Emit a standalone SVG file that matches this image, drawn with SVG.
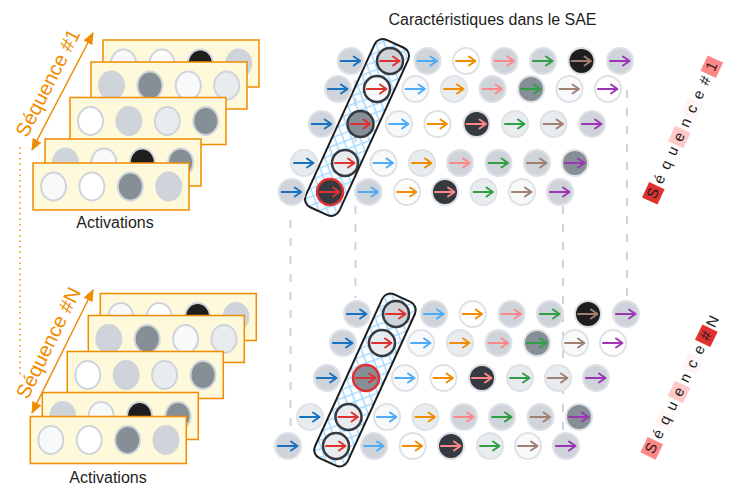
<svg xmlns="http://www.w3.org/2000/svg" xmlns:xlink="http://www.w3.org/1999/xlink" width="738" height="498" viewBox="0 0 738 498">
<style>
.t{font-family:"Liberation Sans",Arial,sans-serif;fill:#1e1e1e}
.o{font-family:"Liberation Sans",Arial,sans-serif;fill:#f08c00;font-size:20px}
.card{fill:#fff9db;stroke:#f08c00;stroke-width:1.5}
ellipse{stroke:#ced4da;stroke-width:2}
circle{stroke:#dee2e6;stroke-width:2}
.g0{fill:#ffffff}.g1{fill:#f8f9fa}.g2{fill:#e9ecef}.g3{fill:#ced4da}.g4{fill:#868e96}.g5{fill:#343a40}.g6{fill:#1e1e1e}
.hl{stroke:#343a40;stroke-width:2.5}
.hr{stroke:#e03131;stroke-width:2.5}
.k1{color:#1971c2}.k2{color:#e03131}.k3{color:#4dabf7}.k4{color:#f08c00}.k5{color:#ff8787}.k6{color:#2f9e44}.k7{color:#a18072}.k8{color:#9c36b5}
.dash{stroke:#ced4da;stroke-width:2;stroke-dasharray:8 10;fill:none}
.box{fill:url(#hatch);stroke:#1e1e1e;stroke-width:2}
</style>
<defs>
<path id="ar" d="M-10 0H9M3-4.5L9.5 0 3 4.5" fill="none" stroke="currentColor" stroke-width="2" stroke-linecap="round" stroke-linejoin="round"/>
<pattern id="hatch" width="8" height="8" patternUnits="userSpaceOnUse" patternTransform="rotate(45)"><path d="M0.75 0V8M0 0.75H8" stroke="#a5d8ff" stroke-width="1.4" fill="none"/></pattern>
<marker id="oh" viewBox="0 0 12 10" refX="11" refY="5" markerWidth="12" markerHeight="10" markerUnits="userSpaceOnUse" orient="auto-start-reverse"><path d="M0 0L12 5L0 10z" fill="#f08c00"/></marker>
</defs>
<rect width="738" height="498" fill="#ffffff"/>

<g id="connectors">
<line x1="20" y1="147" x2="20" y2="376" stroke="#f08c00" stroke-width="1.5" stroke-dasharray="1.5 4"/>
<line x1="32" y1="150" x2="93" y2="33" stroke="#f08c00" stroke-width="1.5" marker-start="url(#oh)" marker-end="url(#oh)"/>
<line x1="32" y1="413" x2="93" y2="290" stroke="#f08c00" stroke-width="1.5" marker-start="url(#oh)" marker-end="url(#oh)"/>
<line class="dash" x1="290.5" y1="220" x2="290.5" y2="432"/>
<line class="dash" x1="355.5" y1="62" x2="355.5" y2="298"/>
<line class="dash" x1="563" y1="206" x2="563" y2="432"/>
<line class="dash" x1="627" y1="90" x2="627" y2="300"/>
</g>

<!-- Top stack -->
<g id="s1-card1" transform="translate(103,40)"><rect class="card" width="156" height="47"/><ellipse cx="20.5" cy="23.5" rx="12.5" ry="14" class="g1"/><ellipse cx="58.9" cy="23.5" rx="12.5" ry="14" class="g0"/><ellipse cx="97.3" cy="23.5" rx="12.5" ry="14" class="g6"/><ellipse cx="135.7" cy="23.5" rx="12.5" ry="14" class="g3"/></g>
<g id="s1-card2" transform="translate(91,62)"><rect class="card" width="156" height="47"/><ellipse cx="20.5" cy="23.5" rx="12.5" ry="14" class="g3"/><ellipse cx="58.9" cy="23.5" rx="12.5" ry="14" class="g4"/><ellipse cx="97.3" cy="23.5" rx="12.5" ry="14" class="g1"/><ellipse cx="135.7" cy="23.5" rx="12.5" ry="14" class="g2"/></g>
<g id="s1-card3" transform="translate(70,97.5)"><rect class="card" width="156" height="47"/><ellipse cx="20.5" cy="23.5" rx="12.5" ry="14" class="g0"/><ellipse cx="58.9" cy="23.5" rx="12.5" ry="14" class="g3"/><ellipse cx="97.3" cy="23.5" rx="12.5" ry="14" class="g2"/><ellipse cx="135.7" cy="23.5" rx="12.5" ry="14" class="g4"/></g>
<g id="s1-card4" transform="translate(45,139)"><rect class="card" width="156" height="47"/><ellipse cx="20.5" cy="23.5" rx="12.5" ry="14" class="g3"/><ellipse cx="58.9" cy="23.5" rx="12.5" ry="14" class="g1"/><ellipse cx="97.3" cy="23.5" rx="12.5" ry="14" class="g6"/><ellipse cx="135.7" cy="23.5" rx="12.5" ry="14" class="g4"/></g>
<g id="s1-card5" transform="translate(33,163)"><rect class="card" width="156" height="47"/><ellipse cx="20.5" cy="23.5" rx="12.5" ry="14" class="g1"/><ellipse cx="58.9" cy="23.5" rx="12.5" ry="14" class="g0"/><ellipse cx="97.3" cy="23.5" rx="12.5" ry="14" class="g4"/><ellipse cx="135.7" cy="23.5" rx="12.5" ry="14" class="g3"/></g>
<text id="lbl-act1" class="t" x="115" y="228" font-size="16" text-anchor="middle">Activations</text>
<text id="lbl-seq1" class="o" transform="translate(54,86) rotate(-62.8)" text-anchor="middle">Séquence #1</text>

<!-- Bottom stack -->
<g id="s2-card1" transform="translate(100.3,293.5)"><rect class="card" width="156" height="47"/><ellipse cx="20.5" cy="23.5" rx="12.5" ry="14" class="g1"/><ellipse cx="58.9" cy="23.5" rx="12.5" ry="14" class="g0"/><ellipse cx="97.3" cy="23.5" rx="12.5" ry="14" class="g6"/><ellipse cx="135.7" cy="23.5" rx="12.5" ry="14" class="g3"/></g>
<g id="s2-card2" transform="translate(88.3,315.5)"><rect class="card" width="156" height="47"/><ellipse cx="20.5" cy="23.5" rx="12.5" ry="14" class="g3"/><ellipse cx="58.9" cy="23.5" rx="12.5" ry="14" class="g4"/><ellipse cx="97.3" cy="23.5" rx="12.5" ry="14" class="g1"/><ellipse cx="135.7" cy="23.5" rx="12.5" ry="14" class="g2"/></g>
<g id="s2-card3" transform="translate(67.3,351.5)"><rect class="card" width="156" height="47"/><ellipse cx="20.5" cy="23.5" rx="12.5" ry="14" class="g0"/><ellipse cx="58.9" cy="23.5" rx="12.5" ry="14" class="g3"/><ellipse cx="97.3" cy="23.5" rx="12.5" ry="14" class="g2"/><ellipse cx="135.7" cy="23.5" rx="12.5" ry="14" class="g4"/></g>
<g id="s2-card4" transform="translate(42.3,392.5)"><rect class="card" width="156" height="47"/><ellipse cx="20.5" cy="23.5" rx="12.5" ry="14" class="g3"/><ellipse cx="58.9" cy="23.5" rx="12.5" ry="14" class="g1"/><ellipse cx="97.3" cy="23.5" rx="12.5" ry="14" class="g6"/><ellipse cx="135.7" cy="23.5" rx="12.5" ry="14" class="g4"/></g>
<g id="s2-card5" transform="translate(30.3,416.5)"><rect class="card" width="156" height="47"/><ellipse cx="20.5" cy="23.5" rx="12.5" ry="14" class="g1"/><ellipse cx="58.9" cy="23.5" rx="12.5" ry="14" class="g0"/><ellipse cx="97.3" cy="23.5" rx="12.5" ry="14" class="g4"/><ellipse cx="135.7" cy="23.5" rx="12.5" ry="14" class="g3"/></g>
<text id="lbl-act2" class="t" x="108" y="483" font-size="16" text-anchor="middle">Activations</text>
<text id="lbl-seqN" class="o" transform="translate(54.5,346) rotate(-63.8)" text-anchor="middle">Séquence #N</text>

<text id="title" class="t" x="492.5" y="25" font-size="16" text-anchor="middle">Caractéristiques dans le SAE</text>

<!-- Top SAE grid -->
<g id="top-box" transform="translate(357,127.5) rotate(24.5)"><rect class="box" x="-18.5" y="-92" width="37" height="184" rx="9"/></g>
<g id="t-r1c1" transform="translate(350.7,61)"><circle r="13" class="g3"/><use href="#ar" class="k1"/></g>
<g id="t-r1c2" transform="translate(390,61)"><circle r="13" class="g3 hl"/><use href="#ar" class="k2"/></g>
<g id="t-r1c3" transform="translate(427.5,61)"><circle r="13" class="g3"/><use href="#ar" class="k3"/></g>
<g id="t-r1c4" transform="translate(466,61)"><circle r="13" class="g0"/><use href="#ar" class="k4"/></g>
<g id="t-r1c5" transform="translate(504.5,61)"><circle r="13" class="g3"/><use href="#ar" class="k5"/></g>
<g id="t-r1c6" transform="translate(543,61)"><circle r="13" class="g3"/><use href="#ar" class="k6"/></g>
<g id="t-r1c7" transform="translate(581.5,61)"><circle r="13" class="g6"/><use href="#ar" class="k7"/></g>
<g id="t-r1c8" transform="translate(620,61)"><circle r="13" class="g3"/><use href="#ar" class="k8"/></g>

<g id="t-r2c1" transform="translate(338,89)"><circle r="13" class="g3"/><use href="#ar" class="k1"/></g>
<g id="t-r2c2" transform="translate(377,89)"><circle r="13" class="g1 hl"/><use href="#ar" class="k2"/></g>
<g id="t-r2c3" transform="translate(415.5,89)"><circle r="13" class="g1"/><use href="#ar" class="k3"/></g>
<g id="t-r2c4" transform="translate(454,89)"><circle r="13" class="g2"/><use href="#ar" class="k4"/></g>
<g id="t-r2c5" transform="translate(492.5,89)"><circle r="13" class="g3"/><use href="#ar" class="k5"/></g>
<g id="t-r2c6" transform="translate(531,89)"><circle r="13" class="g4"/><use href="#ar" class="k6"/></g>
<g id="t-r2c7" transform="translate(569.5,89)"><circle r="13" class="g1"/><use href="#ar" class="k7"/></g>
<g id="t-r2c8" transform="translate(608,89)"><circle r="13" class="g0"/><use href="#ar" class="k8"/></g>

<g id="t-r3c1" transform="translate(321.7,124)"><circle r="13" class="g3"/><use href="#ar" class="k1"/></g>
<g id="t-r3c2" transform="translate(360.5,124)"><circle r="13" class="g4 hl"/><use href="#ar" class="k2"/></g>
<g id="t-r3c3" transform="translate(399,124)"><circle r="13" class="g1"/><use href="#ar" class="k3"/></g>
<g id="t-r3c4" transform="translate(437.5,124)"><circle r="13" class="g0"/><use href="#ar" class="k4"/></g>
<g id="t-r3c5" transform="translate(476.5,124)"><circle r="13" class="g5"/><use href="#ar" class="k5"/></g>
<g id="t-r3c6" transform="translate(515,124)"><circle r="13" class="g2"/><use href="#ar" class="k6"/></g>
<g id="t-r3c7" transform="translate(553.5,124)"><circle r="13" class="g2"/><use href="#ar" class="k7"/></g>
<g id="t-r3c8" transform="translate(592,124)"><circle r="13" class="g3"/><use href="#ar" class="k8"/></g>

<g id="t-r4c1" transform="translate(304,163)"><circle r="13" class="g2"/><use href="#ar" class="k1"/></g>
<g id="t-r4c2" transform="translate(345,163)"><circle r="13" class="g2 hl"/><use href="#ar" class="k2"/></g>
<g id="t-r4c3" transform="translate(383.5,163)"><circle r="13" class="g1"/><use href="#ar" class="k3"/></g>
<g id="t-r4c4" transform="translate(422,163)"><circle r="13" class="g2"/><use href="#ar" class="k4"/></g>
<g id="t-r4c5" transform="translate(460,163)"><circle r="13" class="g3"/><use href="#ar" class="k5"/></g>
<g id="t-r4c6" transform="translate(498.5,163)"><circle r="13" class="g3"/><use href="#ar" class="k6"/></g>
<g id="t-r4c7" transform="translate(537,163)"><circle r="13" class="g3"/><use href="#ar" class="k7"/></g>
<g id="t-r4c8" transform="translate(575,163)"><circle r="13" class="g4"/><use href="#ar" class="k8"/></g>

<g id="t-r5c1" transform="translate(291.7,192)"><circle r="13" class="g3"/><use href="#ar" class="k1"/></g>
<g id="t-r5c2" transform="translate(330,192)"><circle r="13" class="g5 hr"/><use href="#ar" class="k2"/></g>
<g id="t-r5c3" transform="translate(368.5,192)"><circle r="13" class="g3"/><use href="#ar" class="k3"/></g>
<g id="t-r5c4" transform="translate(407,192)"><circle r="13" class="g0"/><use href="#ar" class="k4"/></g>
<g id="t-r5c5" transform="translate(445,192)"><circle r="13" class="g5"/><use href="#ar" class="k5"/></g>
<g id="t-r5c6" transform="translate(483.5,192)"><circle r="13" class="g2"/><use href="#ar" class="k6"/></g>
<g id="t-r5c7" transform="translate(522,192)"><circle r="13" class="g1"/><use href="#ar" class="k7"/></g>
<g id="t-r5c8" transform="translate(560,192)"><circle r="13" class="g3"/><use href="#ar" class="k8"/></g>

<!-- Bottom SAE grid -->
<g id="bot-box" transform="translate(365,380) rotate(24.5)"><rect class="box" x="-18" y="-90" width="36" height="180" rx="9"/></g>
<g id="b-r1c1" transform="translate(357,314)"><circle r="13" class="g3"/><use href="#ar" class="k1"/></g>
<g id="b-r1c2" transform="translate(396,314)"><circle r="13" class="g3 hl"/><use href="#ar" class="k2"/></g>
<g id="b-r1c3" transform="translate(434,314)"><circle r="13" class="g3"/><use href="#ar" class="k3"/></g>
<g id="b-r1c4" transform="translate(472.7,314)"><circle r="13" class="g0"/><use href="#ar" class="k4"/></g>
<g id="b-r1c5" transform="translate(511.5,314)"><circle r="13" class="g3"/><use href="#ar" class="k5"/></g>
<g id="b-r1c6" transform="translate(550,314)"><circle r="13" class="g3"/><use href="#ar" class="k6"/></g>
<g id="b-r1c7" transform="translate(588,314)"><circle r="13" class="g6"/><use href="#ar" class="k7"/></g>
<g id="b-r1c8" transform="translate(626,314)"><circle r="13" class="g3"/><use href="#ar" class="k8"/></g>

<g id="b-r2c1" transform="translate(343,343)"><circle r="13" class="g3"/><use href="#ar" class="k1"/></g>
<g id="b-r2c2" transform="translate(382,343)"><circle r="13" class="g2 hl"/><use href="#ar" class="k2"/></g>
<g id="b-r2c3" transform="translate(421,343)"><circle r="13" class="g1"/><use href="#ar" class="k3"/></g>
<g id="b-r2c4" transform="translate(460,343)"><circle r="13" class="g2"/><use href="#ar" class="k4"/></g>
<g id="b-r2c5" transform="translate(498.5,343)"><circle r="13" class="g3"/><use href="#ar" class="k5"/></g>
<g id="b-r2c6" transform="translate(537,343)"><circle r="13" class="g4"/><use href="#ar" class="k6"/></g>
<g id="b-r2c7" transform="translate(575,343)"><circle r="13" class="g1"/><use href="#ar" class="k7"/></g>
<g id="b-r2c8" transform="translate(613,343)"><circle r="13" class="g0"/><use href="#ar" class="k8"/></g>

<g id="b-r3c1" transform="translate(327,378)"><circle r="13" class="g3"/><use href="#ar" class="k1"/></g>
<g id="b-r3c2" transform="translate(366,378)"><circle r="13" class="g4 hr"/><use href="#ar" class="k2"/></g>
<g id="b-r3c3" transform="translate(405,378)"><circle r="13" class="g1"/><use href="#ar" class="k3"/></g>
<g id="b-r3c4" transform="translate(443.5,378)"><circle r="13" class="g0"/><use href="#ar" class="k4"/></g>
<g id="b-r3c5" transform="translate(482,378)"><circle r="13" class="g5"/><use href="#ar" class="k5"/></g>
<g id="b-r3c6" transform="translate(520,378)"><circle r="13" class="g2"/><use href="#ar" class="k6"/></g>
<g id="b-r3c7" transform="translate(558,378)"><circle r="13" class="g2"/><use href="#ar" class="k7"/></g>
<g id="b-r3c8" transform="translate(596,378)"><circle r="13" class="g3"/><use href="#ar" class="k8"/></g>

<g id="b-r4c1" transform="translate(310,417)"><circle r="13" class="g2"/><use href="#ar" class="k1"/></g>
<g id="b-r4c2" transform="translate(348.5,417)"><circle r="13" class="g2 hl"/><use href="#ar" class="k2"/></g>
<g id="b-r4c3" transform="translate(387,417)"><circle r="13" class="g1"/><use href="#ar" class="k3"/></g>
<g id="b-r4c4" transform="translate(425.5,417)"><circle r="13" class="g2"/><use href="#ar" class="k4"/></g>
<g id="b-r4c5" transform="translate(464,417)"><circle r="13" class="g3"/><use href="#ar" class="k5"/></g>
<g id="b-r4c6" transform="translate(502,417)"><circle r="13" class="g3"/><use href="#ar" class="k6"/></g>
<g id="b-r4c7" transform="translate(540.5,417)"><circle r="13" class="g3"/><use href="#ar" class="k7"/></g>
<g id="b-r4c8" transform="translate(579,417)"><circle r="13" class="g4"/><use href="#ar" class="k8"/></g>

<g id="b-r5c1" transform="translate(288,446)"><circle r="13" class="g3"/><use href="#ar" class="k1"/></g>
<g id="b-r5c2" transform="translate(336,446)"><circle r="13" class="g2 hl"/><use href="#ar" class="k2"/></g>
<g id="b-r5c3" transform="translate(374,446)"><circle r="13" class="g3"/><use href="#ar" class="k3"/></g>
<g id="b-r5c4" transform="translate(412.7,446)"><circle r="13" class="g0"/><use href="#ar" class="k4"/></g>
<g id="b-r5c5" transform="translate(451,446)"><circle r="13" class="g5"/><use href="#ar" class="k5"/></g>
<g id="b-r5c6" transform="translate(490,446)"><circle r="13" class="g2"/><use href="#ar" class="k6"/></g>
<g id="b-r5c7" transform="translate(528,446)"><circle r="13" class="g1"/><use href="#ar" class="k7"/></g>
<g id="b-r5c8" transform="translate(566,446)"><circle r="13" class="g3"/><use href="#ar" class="k8"/></g>

<!-- Right labels -->
<g id="seq-label-1" transform="translate(653.3,193.3) rotate(-65.2)">
<rect x="-8.5" y="-8.5" width="17" height="17" fill="#e03131"/>
<rect x="53.5" y="-8.5" width="17" height="17" fill="#ffc9c9"/>
<rect x="84.5" y="-8.5" width="17" height="17" fill="#fff5f5"/>
<rect x="131" y="-8.5" width="17" height="17" fill="#ff8787"/>
<text class="t" font-size="15" text-anchor="middle" x="0 15.5 31 46.5 62 77.5 93 108.5 124 139.5" y="4.5">Séquence#1</text>
</g>
<g id="seq-label-N" transform="translate(651.7,448.3) rotate(-64.1)">
<rect x="-8.5" y="-8.5" width="17" height="17" fill="#ff8787"/>
<rect x="22.8" y="-8.5" width="17" height="17" fill="#fff5f5"/>
<rect x="54.1" y="-8.5" width="17" height="17" fill="#ffc9c9"/>
<rect x="85.3" y="-8.5" width="17" height="17" fill="#fff5f5"/>
<rect x="116.6" y="-8.5" width="17" height="17" fill="#e03131"/>
<text class="t" font-size="15" text-anchor="middle" x="0 15.64 31.28 46.92 62.56 78.2 93.84 109.48 125.12 140.76" y="4.5">Séquence#N</text>
</g>
</svg>
